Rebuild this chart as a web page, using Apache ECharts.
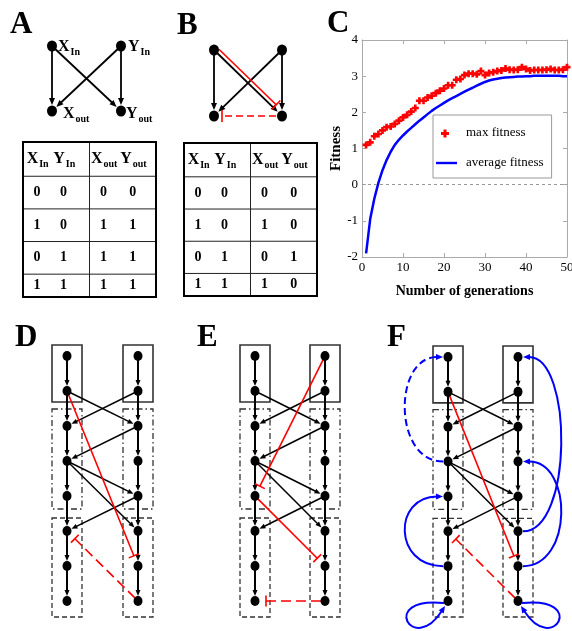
<!DOCTYPE html>
<html>
<head>
<meta charset="utf-8">
<title>fitness networks</title>
<script src="https://cdn.jsdelivr.net/npm/echarts@6.0.0/dist/echarts.min.js"></script>
<style>
  html, body { margin: 0; padding: 0; background: #fff; }
  #main { width: 572px; height: 631px; }
</style>
</head>
<body>
<div id="main"></div>
<script>
var SERIF = "'Liberation Serif', 'Times New Roman', serif";

// ---- panel C : fitness per generation ----
var generations = [1, 2, 3, 4, 5, 6, 7, 8, 9, 10, 11, 12, 13, 14, 15, 16, 17, 18, 19, 20,
  21, 22, 23, 24, 25, 26, 27, 28, 29, 30, 31, 32, 33, 34, 35, 36, 37, 38, 39, 40,
  41, 42, 43, 44, 45, 46, 47, 48, 49, 50];
var maxFitness = [1.10, 1.17, 1.34, 1.40, 1.50, 1.59, 1.61, 1.68, 1.77, 1.86,
  1.93, 2.02, 2.12, 2.32, 2.32, 2.41, 2.46, 2.53, 2.60, 2.66,
  2.75, 2.75, 2.90, 2.92, 3.03, 3.07, 3.07, 3.05, 3.14, 3.03,
  3.09, 3.11, 3.14, 3.16, 3.21, 3.18, 3.17, 3.18, 3.25, 3.20,
  3.16, 3.17, 3.17, 3.17, 3.18, 3.20, 3.17, 3.17, 3.18, 3.25];
var avgFitness = [-1.90, -0.95, -0.39, 0.05, 0.40, 0.68, 0.91, 1.10, 1.24, 1.36,
  1.47, 1.57, 1.67, 1.77, 1.86, 1.95, 2.04, 2.12, 2.19, 2.26,
  2.33, 2.39, 2.45, 2.51, 2.57, 2.63, 2.68, 2.74, 2.79, 2.84,
  2.88, 2.91, 2.93, 2.95, 2.96, 2.97, 2.98, 2.99, 2.99, 3.00,
  3.00, 3.01, 3.01, 3.01, 3.01, 3.01, 3.01, 3.01, 3.00, 3.00];

// ---- panels A, B : 4 node nets + truth tables ----
var netNodes = [[0, 0], [1, 0], [0, 1], [1, 1]];   // [column, row]
var netNames = ['X', 'Y', 'X', 'Y'];
var netSubs = ['In', 'In', 'out', 'out'];
var netArrows = [[0, 0, 0, 1], [1, 0, 1, 1], [0, 0, 1, 1], [1, 0, 0, 1]];
var inhibitB = [[0, 0, 1, 1]];
var inhibitDashedB = [[1, 1, 0, 1]];
var tableHead = [['X', 'In'], ['Y', 'In'], ['X', 'out'], ['Y', 'out']];
var tableA = [[0, 0, 0, 0], [1, 0, 1, 1], [0, 1, 1, 1], [1, 1, 1, 1]];
var tableB = [[0, 0, 0, 0], [1, 0, 1, 0], [0, 1, 0, 1], [1, 1, 1, 0]];

// ---- panels D, E, F : two 8 node chains ----
var columns = [0, 1];
var rows = [0, 1, 2, 3, 4, 5, 6, 7];
var modules = [[0, 1], [2, 4], [5, 7]];
var crossArrows = [[0, 1, 1, 2], [1, 1, 0, 2], [1, 2, 0, 3], [0, 3, 1, 4], [0, 3, 1, 5], [1, 4, 0, 5]];
var inhibitD = [[0, 1, 1, 6]];
var inhibitDashedD = [[1, 7, 0, 5]];
var inhibitE = [[1, 0, 0, 4], [0, 4, 1, 6]];
var inhibitDashedE = [[1, 7, 0, 7]];
var inhibitF = [[0, 1, 1, 6]];
var inhibitDashedF = [[1, 7, 0, 5]];
var feedbackF = [[0, 6, 0, 4], [0, 7, 0, 7], [1, 5, 1, 0], [1, 6, 1, 3], [1, 7, 1, 7]];
var feedbackDashedF = [[0, 3, 0, 0]];

// layout / style constants
var TABLE_ROWS = [-1.05, 0, 1, 2, 3, 3.7];
var TABLE_TEXT_X = [0.42, 1.22, 2.42, 3.3];
var BOX_DASH = [null, [6, 3, 1.5, 3], [5, 3]];
var BOX_PAD = [[11, 11], [17, 13], [13, 16]];

var chart = echarts.init(document.getElementById('main'));

function unit(p1, p2) {
  var dx = p2[0] - p1[0], dy = p2[1] - p1[1];
  var L = Math.sqrt(dx * dx + dy * dy) || 1;
  return [dx / L, dy / L];
}

function head(tip, u, len, wid, color) {
  var bx = tip[0] - u[0] * len, by = tip[1] - u[1] * len;
  return {
    type: 'polygon',
    shape: {points: [[tip[0], tip[1]], [bx - u[1] * wid / 2, by + u[0] * wid / 2], [bx + u[1] * wid / 2, by - u[0] * wid / 2]]},
    style: {fill: color}
  };
}

function arrowRender(st) {
  return function (params, api) {
    var p1 = api.coord([api.value(0), api.value(1)]);
    var p2 = api.coord([api.value(2), api.value(3)]);
    var u = unit(p1, p2);
    var tip = [p2[0] - u[0] * st.gap, p2[1] - u[1] * st.gap];
    var end = [tip[0] - u[0] * (st.head - 1), tip[1] - u[1] * (st.head - 1)];
    return {
      type: 'group',
      children: [
        {type: 'line', shape: {x1: p1[0], y1: p1[1], x2: end[0], y2: end[1]}, style: {stroke: st.color, lineWidth: st.width}},
        head(tip, u, st.head, st.headWidth, st.color)
      ]
    };
  };
}

function inhibitRender(st) {
  return function (params, api) {
    var p1 = api.coord([api.value(0), api.value(1)]);
    var p2 = api.coord([api.value(2), api.value(3)]);
    var u = unit(p1, p2);
    var n = [-u[1], u[0]];
    var s = st.shift || 0;
    var a = [p1[0] + u[0] * st.startGap + n[0] * s, p1[1] + u[1] * st.startGap + n[1] * s];
    var b = [p2[0] - u[0] * st.gap + n[0] * s, p2[1] - u[1] * st.gap + n[1] * s];
    return {
      type: 'group',
      children: [
        {type: 'line', shape: {x1: a[0], y1: a[1], x2: b[0], y2: b[1]},
          style: {stroke: st.color, lineWidth: st.width, lineDash: st.dash || null}},
        {type: 'line', shape: {x1: b[0] + n[0] * st.bar / 2, y1: b[1] + n[1] * st.bar / 2, x2: b[0] - n[0] * st.bar / 2, y2: b[1] - n[1] * st.bar / 2},
          style: {stroke: st.color, lineWidth: st.width}}
      ]
    };
  };
}

// feedback curves: left column bends left, right column bends right
function feedbackRender(st) {
  return function (params, api) {
    var p1 = api.coord([api.value(0), api.value(1)]);
    var p2 = api.coord([api.value(2), api.value(3)]);
    var s = api.value(0) === 0 ? -1 : 1;
    var P0, P1, P2, P3;
    if (api.value(1) === api.value(3)) {
      P0 = [p1[0] + s * 4, p1[1] + 2];
      P1 = [p1[0] + s * 70, p1[1] - 5];
      P2 = [p1[0] + s * 35, p1[1] + 55];
      P3 = [p1[0] + s * 3, p1[1] + 5];
    } else {
      P0 = [p1[0] + s * 5, p1[1]];
      P1 = [p1[0] + s * st.bulge, p1[1]];
      P2 = [p2[0] + s * st.bulge, p2[1]];
      P3 = [p2[0] + s * 5, p2[1]];
    }
    var u = unit(P2, P3);
    var end = [P3[0] - u[0] * (st.head - 1), P3[1] - u[1] * (st.head - 1)];
    return {
      type: 'group',
      children: [
        {type: 'bezierCurve',
          shape: {x1: P0[0], y1: P0[1], cpx1: P1[0], cpy1: P1[1], cpx2: P2[0], cpy2: P2[1], x2: end[0], y2: end[1]},
          style: {stroke: st.color, lineWidth: st.width, fill: 'none', lineDash: st.dash || null}},
        head(P3, u, st.head, st.headWidth, st.color)
      ]
    };
  };
}

function boxRender(params, api) {
  var k = api.value(3);
  var a = api.coord([api.value(0), api.value(1)]);
  var b = api.coord([api.value(0), api.value(2)]);
  return {
    type: 'rect',
    shape: {x: a[0] - 15, y: a[1] - BOX_PAD[k][0], width: 30, height: b[1] - a[1] + BOX_PAD[k][0] + BOX_PAD[k][1]},
    style: {fill: 'none', stroke: '#333', lineWidth: k === 0 ? 1.6 : 1.3, lineDash: BOX_DASH[k]}
  };
}

function tableFrameRender(params, api) {
  var last = TABLE_ROWS[TABLE_ROWS.length - 1];
  var tl = api.coord([0, TABLE_ROWS[0]]);
  var br = api.coord([4, last]);
  var kids = [];
  for (var i = 1; i < TABLE_ROWS.length - 1; i++) {
    var y = api.coord([0, TABLE_ROWS[i]])[1];
    kids.push({type: 'line', shape: {x1: tl[0], y1: y, x2: br[0], y2: y}, style: {stroke: '#222', lineWidth: 1}});
  }
  var mx = api.coord([2, 0])[0];
  kids.push({type: 'line', shape: {x1: mx, y1: tl[1], x2: mx, y2: br[1]}, style: {stroke: '#222', lineWidth: 1}});
  kids.push({type: 'rect', shape: {x: tl[0], y: tl[1], width: br[0] - tl[0], height: br[1] - tl[1]},
    style: {fill: 'none', stroke: '#000', lineWidth: 2}});
  return {type: 'group', children: kids};
}

var SUB_RICH = {
  m: {fontFamily: SERIF, fontWeight: 'bold', fontSize: 16, lineHeight: 16, color: '#000'},
  s: {fontFamily: SERIF, fontWeight: 'bold', fontSize: 10, lineHeight: 10, color: '#000', padding: [11, 0, 0, 1]}
};

function tableHeadRender(params, api) {
  var c = api.value(0);
  var p = api.coord([TABLE_TEXT_X[c] + 0.02, (TABLE_ROWS[0] + TABLE_ROWS[1]) / 2]);
  return {
    type: 'text', x: p[0], y: p[1],
    style: {text: '{m|' + tableHead[c][0] + '}{s|' + tableHead[c][1] + '}', rich: SUB_RICH, align: 'center', verticalAlign: 'middle'}
  };
}

function tableCellRender(params, api) {
  var c = api.value(0), r = api.value(1);
  var p = api.coord([TABLE_TEXT_X[c], (TABLE_ROWS[r + 1] + TABLE_ROWS[r + 2]) / 2]);
  return {
    type: 'text', x: p[0], y: p[1],
    style: {text: String(api.value(2)), fontFamily: SERIF, fontWeight: 'bold', fontSize: 14, fill: '#000', align: 'center', verticalAlign: 'middle'}
  };
}

function custom(grid, data, render, z) {
  return {type: 'custom', xAxisIndex: grid, yAxisIndex: grid, data: data, renderItem: render, silent: true, z: z || 2};
}

function nodes(grid, data, size) {
  return {type: 'scatter', xAxisIndex: grid, yAxisIndex: grid, data: data, symbol: 'circle', symbolSize: size,
    itemStyle: {color: '#000', opacity: 1}, silent: true, z: 5};
}

function hidden(grid, min, max, inverse) {
  return {type: 'value', gridIndex: grid, min: min, max: max, inverse: !!inverse, show: false};
}

var ACT_NET = {color: '#000', width: 1.8, head: 7, headWidth: 6, gap: 6};
var ACT_CHAIN = {color: '#000', width: 2, head: 6, headWidth: 5, gap: 5};
var ACT_CROSS = {color: '#000', width: 1.5, head: 6, headWidth: 5, gap: 5};
var INH_B = {color: '#ff0000', width: 1.6, gap: 12, startGap: 3, bar: 12, shift: -4};
var INH_B_DASH = {color: '#ff0000', width: 1.6, gap: 8, startGap: 6, bar: 12, dash: [7, 4]};
var INH = {color: '#ff0000', width: 1.6, gap: 11, startGap: 3, bar: 11};
var INH_DASH = {color: '#ff0000', width: 1.6, gap: 11, startGap: 4, bar: 11, dash: [10, 5]};
var FB = {color: '#0000ff', width: 2, bulge: 55, head: 7, headWidth: 6};
var FB_DASH = {color: '#0000ff', width: 2, bulge: 55, head: 7, headWidth: 6, dash: [7, 4]};

// labelled nodes of panel A
var labelShift = [[1, 1], [2, 1], [6, 3], [0, 3]];
var netNodesA = netNodes.map(function (p, i) {
  return {
    value: p,
    label: {show: true, position: 'right', distance: labelShift[i][0], offset: [0, labelShift[i][1]],
      formatter: '{m|' + netNames[i] + '}{s|' + netSubs[i] + '}', rich: SUB_RICH}
  };
});

var chainNodes = [], chainArrows = [], boxes = [];
columns.forEach(function (c) {
  rows.forEach(function (r, i) {
    chainNodes.push([c, r]);
    if (i < rows.length - 1) chainArrows.push([c, r, c, rows[i + 1]]);
  });
  modules.forEach(function (m, k) { boxes.push([c, m[0], m[1], k]); });
});

var cellsA = [], cellsB = [];
tableA.forEach(function (row, r) { row.forEach(function (v, c) { cellsA.push([c, r, v]); }); });
tableB.forEach(function (row, r) { row.forEach(function (v, c) { cellsB.push([c, r, v]); }); });
var headCells = tableHead.map(function (h, c) { return [c, -0.5]; });

var grids = [
  {left: 52, top: 46, width: 69, height: 65},
  {left: 214, top: 50, width: 68, height: 66},
  {left: 23, top: 142, width: 133, height: 155},
  {left: 184, top: 143, width: 133, height: 153},
  {left: 362, top: 40, width: 205, height: 217},
  {left: 67, top: 356, width: 71, height: 245},
  {left: 255, top: 356, width: 70, height: 245},
  {left: 448, top: 357, width: 70, height: 244}
];
grids.forEach(function (g) { g.outerBoundsMode = 'none'; });

var frame = '#aaaaaa';
var axisC = {
  axisLine: {show: true, onZero: false, lineStyle: {color: frame, width: 1}},
  axisTick: {show: true, inside: true, length: 4, lineStyle: {color: frame}},
  splitLine: {show: false}
};

var xAxes = [
  hidden(0, 0, 1), hidden(1, 0, 1), hidden(2, 0, 4), hidden(3, 0, 4),
  Object.assign({type: 'value', gridIndex: 4, min: 0, max: 50, interval: 10, position: 'bottom',
    axisLabel: {color: '#000', fontFamily: SERIF, fontSize: 13, margin: 4},
    name: 'Number of generations', nameLocation: 'middle', nameGap: 27,
    nameTextStyle: {color: '#000', fontFamily: SERIF, fontSize: 14, fontWeight: 'bold'}}, axisC),
  hidden(5, 0, 1), hidden(6, 0, 1), hidden(7, 0, 1),
  Object.assign({type: 'value', gridIndex: 4, min: 0, max: 50, interval: 10, position: 'top',
    axisLabel: {show: false}}, axisC)
];
var yAxes = [
  hidden(0, 0, 1, true), hidden(1, 0, 1, true), hidden(2, -1.05, 3.7, true), hidden(3, -1.05, 3.7, true),
  Object.assign({type: 'value', gridIndex: 4, min: -2, max: 4, interval: 1, position: 'left',
    axisLabel: {color: '#000', fontFamily: SERIF, fontSize: 13, margin: 4},
    name: 'Fitness', nameLocation: 'middle', nameGap: 18,
    nameTextStyle: {color: '#000', fontFamily: SERIF, fontSize: 15, fontWeight: 'bold'}}, axisC),
  hidden(5, 0, 7, true), hidden(6, 0, 7, true), hidden(7, 0, 7, true),
  Object.assign({type: 'value', gridIndex: 4, min: -2, max: 4, interval: 1, position: 'right',
    axisLabel: {show: false}}, axisC)
];

var letterStyle = {fontFamily: SERIF, fontWeight: 'bold', fontSize: 31, color: '#000'};
var letters = [['A', 10, 9], ['B', 177, 10], ['C', 327, 8], ['D', 15, 322], ['E', 197, 322], ['F', 387, 322]];

var series = [
  // panel A
  custom(0, netArrows, arrowRender(ACT_NET)),
  nodes(0, netNodesA, [10, 11]),
  // panel B
  custom(1, netArrows, arrowRender(ACT_NET)),
  custom(1, inhibitB, inhibitRender(INH_B), 3),
  custom(1, inhibitDashedB, inhibitRender(INH_B_DASH), 3),
  nodes(1, netNodes, [10, 11]),
  // tables
  custom(2, [[0, 0]], tableFrameRender),
  custom(2, headCells, tableHeadRender),
  custom(2, cellsA, tableCellRender),
  custom(3, [[0, 0]], tableFrameRender),
  custom(3, headCells, tableHeadRender),
  custom(3, cellsB, tableCellRender),
  // panel C
  {
    name: 'max fitness', type: 'scatter', xAxisIndex: 4, yAxisIndex: 4,
    data: generations.map(function (g, i) { return [g, maxFitness[i]]; }),
    symbol: 'path://M2.5,0h3v2.5h2.5v3h-2.5v2.5h-3v-2.5h-2.5v-3h2.5z', symbolSize: 7,
    itemStyle: {color: '#ff0000', opacity: 1}, z: 4
  },
  {
    name: 'average fitness', type: 'line', xAxisIndex: 4, yAxisIndex: 4,
    data: generations.map(function (g, i) { return [g, avgFitness[i]]; }),
    symbol: 'none', lineStyle: {color: '#0000ff', width: 2.5}, itemStyle: {color: '#0000ff'}, z: 3,
    markLine: {silent: true, symbol: ['none', 'none'], label: {show: false},
      lineStyle: {color: '#999', type: [3, 3], width: 1}, data: [{yAxis: 0}]}
  }
];

// panels D, E, F share the chains, boxes and black arrows
[[5, inhibitD, inhibitDashedD], [6, inhibitE, inhibitDashedE], [7, inhibitF, inhibitDashedF]].forEach(function (p) {
  series.push(custom(p[0], boxes, boxRender, 1));
  series.push(custom(p[0], chainArrows, arrowRender(ACT_CHAIN)));
  series.push(custom(p[0], crossArrows, arrowRender(ACT_CROSS)));
  series.push(custom(p[0], p[1], inhibitRender(INH), 3));
  series.push(custom(p[0], p[2], inhibitRender(INH_DASH), 3));
  series.push(nodes(p[0], chainNodes, [9, 10]));
});
series.push(custom(7, feedbackF, feedbackRender(FB), 3));
series.push(custom(7, feedbackDashedF, feedbackRender(FB_DASH), 3));

chart.setOption({
  animation: false,
  backgroundColor: '#fff',
  title: letters.map(function (l) {
    return {text: l[0], left: l[1], top: l[2], padding: 0, textStyle: letterStyle};
  }),
  legend: {
    left: 433, top: 115, orient: 'vertical', padding: [11, 8, 8, 3], itemGap: 16,
    itemWidth: 25, itemHeight: 14, borderColor: '#999', borderWidth: 1, backgroundColor: '#fff',
    selectedMode: false, textStyle: {fontFamily: SERIF, fontSize: 13, color: '#000'},
    data: [
      {name: 'max fitness', icon: 'path://M0,0M25,14M7.5,3.5h3v2.5h2.5v3h-2.5v2.5h-3v-2.5h-2.5v-3h2.5z',
        itemStyle: {color: '#ff0000', borderWidth: 0}},
      {name: 'average fitness', icon: 'path://M0,0M25,14M0,5.8h21v2.4h-21z',
        itemStyle: {color: '#0000ff', borderWidth: 0}}
    ]
  },
  grid: grids,
  xAxis: xAxes,
  yAxis: yAxes,
  series: series
});
</script>
</body>
</html>
